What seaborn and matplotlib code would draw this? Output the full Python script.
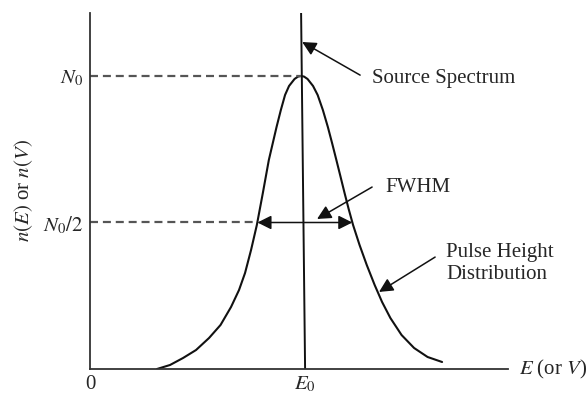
import numpy as np
import pandas as pd
import matplotlib
matplotlib.use("Agg")
import matplotlib.pyplot as plt
import seaborn as sns

# ---- data (E in units of E0, n in units of N0) ----
pulse_E = [0.3190, 0.3810, 0.4429, 0.5048, 0.5667, 0.6214, 0.6714, 0.7095, 0.7381,
           0.7667, 0.7943, 0.8229, 0.8514, 0.8881, 0.9086, 0.9286, 0.9476, 0.9738,
           0.9905, 1.0048, 1.0190, 1.0357, 1.0619, 1.0838, 1.1086, 1.1324, 1.1524,
           1.1729, 1.1919, 1.2119, 1.2314, 1.2524, 1.2833, 1.3176, 1.3552, 1.3905,
           1.4300, 1.4833, 1.5429, 1.6071, 1.6762]
pulse_n = [0.0000, 0.0137, 0.0375, 0.0648, 0.1058, 0.1502, 0.2116, 0.2696, 0.3276,
           0.4061, 0.4915, 0.6007, 0.7133, 0.8259, 0.8840, 0.9352, 0.9659, 0.9898,
           0.9980, 1.0000, 0.9980, 0.9898, 0.9659, 0.9352, 0.8840, 0.8259, 0.7713,
           0.7133, 0.6587, 0.6007, 0.5461, 0.4915, 0.4232, 0.3549, 0.2867, 0.2287,
           0.1741, 0.1160, 0.0717, 0.0410, 0.0239]
source_E = [1.005, 1.024]
source_n = [1.215, 0.000]
peak_E = 1.005
half_level = 0.5
fwhm_left, fwhm_right = 0.797, 1.249
y_tick_vals = [half_level, 1.0]
y_tick_labels = [r"$N_0/2$", r"$N_0$"]
x_tick_vals = [0.0, 1.024]
x_tick_labels = ["0", r"$E_0$"]

pulse_df = pd.DataFrame({"E": pulse_E, "n": pulse_n})
source_df = pd.DataFrame({"E": source_E, "n": source_n})

sns.set_style("white")
plt.rcParams["font.family"] = ["Liberation Serif", "DejaVu Serif"]
plt.rcParams["mathtext.fontset"] = "stix"

fig = plt.figure(figsize=(5.86, 3.94), dpi=100)
ax = fig.add_axes([90 / 586, 25 / 394, 418 / 586, 356 / 394])

sns.lineplot(data=pulse_df, x="E", y="n", sort=False, estimator=None,
             color="#111111", lw=1.5, ax=ax, solid_joinstyle="round",
             solid_capstyle="round")
sns.lineplot(data=source_df, x="E", y="n", sort=False, estimator=None,
             color="#111111", lw=1.4, ax=ax)

dash = (0, (3.6, 2.2))
ax.plot([0, peak_E], [1.0, 1.0], color="#555555", lw=1.6, linestyle=dash)
ax.plot([0, fwhm_left], [half_level, half_level], color="#555555", lw=1.6, linestyle=dash)

ax.set_xlim(0, 1.99)
ax.set_ylim(0, 1.215)

for s in ["top", "right"]:
    ax.spines[s].set_visible(False)
for s in ["left", "bottom"]:
    ax.spines[s].set_color("#333333")
    ax.spines[s].set_linewidth(1.3)

ax.set_xticks(x_tick_vals)
ax.set_xticklabels(x_tick_labels, fontsize=15)
ax.set_yticks(y_tick_vals)
ax.set_yticklabels(y_tick_labels, fontsize=15)
ax.tick_params(axis="y", length=0, pad=5)
ax.tick_params(axis="x", length=0, pad=4)
ax.set_xlabel("")
ax.set_ylabel(r"$n(E)$ or $n(V)$", fontsize=15, labelpad=6)

ax.text(2.04, 0, r"$E$ (or $V$)", fontsize=15, va="center", ha="left", clip_on=False)

arrow_kw = dict(arrowstyle="-|>,head_length=0.6,head_width=0.3", color="#111111",
                lw=1.1, shrinkA=0, shrinkB=0, mutation_scale=14)

# FWHM double arrow
ax.annotate("", xy=(fwhm_right, half_level), xytext=(fwhm_left, half_level),
            arrowprops=dict(arrowstyle="<|-|>,head_length=0.6,head_width=0.3",
                            color="#111111", lw=1.1, shrinkA=0, shrinkB=0,
                            mutation_scale=14))

ax.annotate("", xy=(1.010, 1.116), xytext=(1.286, 1.003), arrowprops=arrow_kw)
ax.text(1.343, 0.99, "Source Spectrum", fontsize=15, va="center", ha="left")

ax.annotate("", xy=(1.081, 0.512), xytext=(1.343, 0.621), arrowprops=arrow_kw)
ax.text(1.405, 0.618, "FWHM", fontsize=15, va="center", ha="left")

ax.annotate("", xy=(1.376, 0.263), xytext=(1.643, 0.382), arrowprops=arrow_kw)
ax.text(1.695, 0.36, "Pulse Height\nDistribution", fontsize=15, va="center",
        ha="left", linespacing=1.2)

fig.savefig("out.png", dpi=100)
